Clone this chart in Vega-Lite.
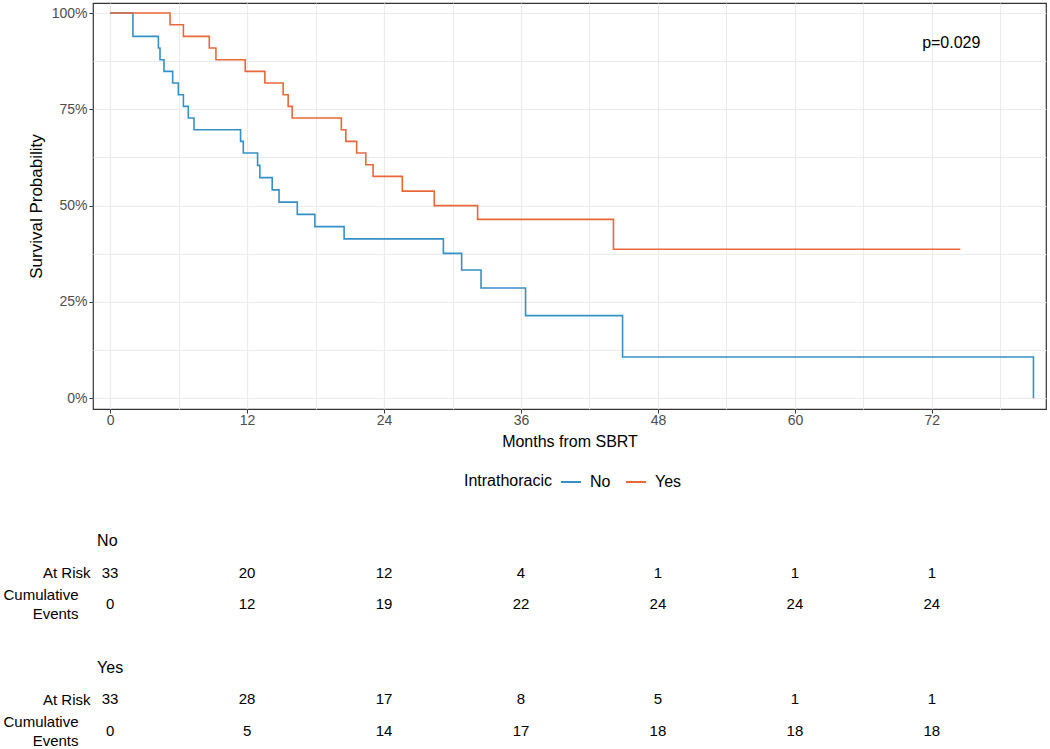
{
  "$schema": "https://vega.github.io/schema/vega-lite/v6.json",
  "padding": {"left": 2, "top": 2, "right": 4, "bottom": 0},
  "spacing": 75,
  "config": {
    "font": "Liberation Sans",
    "view": {"stroke": "#333333", "strokeWidth": 1.2},
    "axis": {"titleFontWeight": "normal", "titleColor": "black"},
    "legend": {"titleFontWeight": "normal"}
  },
  "datasets": {
    "km": [
      {"group": "No", "months": 0, "surv": 1},
      {"group": "No", "months": 2.0, "surv": 0.9394},
      {"group": "No", "months": 4.23, "surv": 0.9091},
      {"group": "No", "months": 4.37, "surv": 0.8788},
      {"group": "No", "months": 4.72, "surv": 0.8485},
      {"group": "No", "months": 5.48, "surv": 0.8182},
      {"group": "No", "months": 5.98, "surv": 0.7879},
      {"group": "No", "months": 6.42, "surv": 0.7576},
      {"group": "No", "months": 6.85, "surv": 0.7273},
      {"group": "No", "months": 7.35, "surv": 0.697},
      {"group": "No", "months": 11.43, "surv": 0.6667},
      {"group": "No", "months": 11.67, "surv": 0.6364},
      {"group": "No", "months": 12.92, "surv": 0.6045},
      {"group": "No", "months": 13.12, "surv": 0.5727},
      {"group": "No", "months": 14.2, "surv": 0.5409},
      {"group": "No", "months": 14.8, "surv": 0.5091},
      {"group": "No", "months": 16.4, "surv": 0.4773},
      {"group": "No", "months": 17.94, "surv": 0.4455},
      {"group": "No", "months": 20.5, "surv": 0.4136},
      {"group": "No", "months": 29.2, "surv": 0.376},
      {"group": "No", "months": 30.8, "surv": 0.333},
      {"group": "No", "months": 32.5, "surv": 0.286},
      {"group": "No", "months": 36.4, "surv": 0.2143},
      {"group": "No", "months": 44.9, "surv": 0.1071},
      {"group": "No", "months": 80.9, "surv": 0},
      {"group": "Yes", "months": 0, "surv": 1},
      {"group": "Yes", "months": 5.25, "surv": 0.9697},
      {"group": "Yes", "months": 6.42, "surv": 0.9394},
      {"group": "Yes", "months": 8.69, "surv": 0.9091},
      {"group": "Yes", "months": 9.27, "surv": 0.8788},
      {"group": "Yes", "months": 11.84, "surv": 0.8485},
      {"group": "Yes", "months": 13.56, "surv": 0.8182},
      {"group": "Yes", "months": 15.16, "surv": 0.7879},
      {"group": "Yes", "months": 15.6, "surv": 0.7576},
      {"group": "Yes", "months": 15.95, "surv": 0.7273},
      {"group": "Yes", "months": 20.26, "surv": 0.697},
      {"group": "Yes", "months": 20.65, "surv": 0.6667},
      {"group": "Yes", "months": 21.6, "surv": 0.6364},
      {"group": "Yes", "months": 22.4, "surv": 0.6061},
      {"group": "Yes", "months": 23.04, "surv": 0.5758},
      {"group": "Yes", "months": 25.6, "surv": 0.5375},
      {"group": "Yes", "months": 28.4, "surv": 0.5},
      {"group": "Yes", "months": 32.2, "surv": 0.4643},
      {"group": "Yes", "months": 44.1, "surv": 0.3869},
      {"group": "Yes", "months": 74.5, "surv": 0.3869}
    ],
    "risk": [
      {"row": "No", "kind": "h", "t": 0, "label": "No"},
      {"row": "Yes", "kind": "h", "t": 0, "label": "Yes"},
      {"row": "No_risk", "kind": "n", "t": 0, "label": "33"},
      {"row": "No_risk", "kind": "n", "t": 12, "label": "20"},
      {"row": "No_risk", "kind": "n", "t": 24, "label": "12"},
      {"row": "No_risk", "kind": "n", "t": 36, "label": "4"},
      {"row": "No_risk", "kind": "n", "t": 48, "label": "1"},
      {"row": "No_risk", "kind": "n", "t": 60, "label": "1"},
      {"row": "No_risk", "kind": "n", "t": 72, "label": "1"},
      {"row": "No_cum", "kind": "n", "t": 0, "label": "0"},
      {"row": "No_cum", "kind": "n", "t": 12, "label": "12"},
      {"row": "No_cum", "kind": "n", "t": 24, "label": "19"},
      {"row": "No_cum", "kind": "n", "t": 36, "label": "22"},
      {"row": "No_cum", "kind": "n", "t": 48, "label": "24"},
      {"row": "No_cum", "kind": "n", "t": 60, "label": "24"},
      {"row": "No_cum", "kind": "n", "t": 72, "label": "24"},
      {"row": "Yes_risk", "kind": "n", "t": 0, "label": "33"},
      {"row": "Yes_risk", "kind": "n", "t": 12, "label": "28"},
      {"row": "Yes_risk", "kind": "n", "t": 24, "label": "17"},
      {"row": "Yes_risk", "kind": "n", "t": 36, "label": "8"},
      {"row": "Yes_risk", "kind": "n", "t": 48, "label": "5"},
      {"row": "Yes_risk", "kind": "n", "t": 60, "label": "1"},
      {"row": "Yes_risk", "kind": "n", "t": 72, "label": "1"},
      {"row": "Yes_cum", "kind": "n", "t": 0, "label": "0"},
      {"row": "Yes_cum", "kind": "n", "t": 12, "label": "5"},
      {"row": "Yes_cum", "kind": "n", "t": 24, "label": "14"},
      {"row": "Yes_cum", "kind": "n", "t": 36, "label": "17"},
      {"row": "Yes_cum", "kind": "n", "t": 48, "label": "18"},
      {"row": "Yes_cum", "kind": "n", "t": 60, "label": "18"},
      {"row": "Yes_cum", "kind": "n", "t": 72, "label": "18"}
    ]
  },
  "vconcat": [
    {
      "width": 953,
      "height": 406,
      "layer": [
        {
          "data": {"values": [{"label": "p=0.029"}]},
          "mark": {"type": "text", "fontSize": 16, "color": "black"},
          "encoding": {
            "x": {
              "datum": 73.7, "type": "quantitative",
              "axis": {"orient": "top", "values": [6, 18, 30, 42, 54, 66, 78], "grid": true, "gridColor": "#ebebeb", "gridWidth": 1, "labels": false, "ticks": false, "domain": false, "title": null}
            },
            "y": {
              "datum": 0.922, "type": "quantitative",
              "axis": {"orient": "right", "values": [0.125, 0.375, 0.625, 0.875], "grid": true, "gridColor": "#ebebeb", "gridWidth": 1, "labels": false, "ticks": false, "domain": false, "title": null}
            },
            "text": {"field": "label"}
          }
        },
        {
          "data": {"name": "km"},
          "mark": {"type": "line", "interpolate": "step-after", "strokeWidth": 1.6},
          "encoding": {
            "x": {
              "field": "months", "type": "quantitative",
              "scale": {"domain": [-1.5, 82], "nice": false, "zero": false},
              "axis": {"values": [0, 12, 24, 36, 48, 60, 72], "title": "Months from SBRT", "grid": true, "gridColor": "#ebebeb", "gridWidth": 1.2, "domain": false, "tickColor": "#333333", "tickSize": 4, "labelColor": "#4d4d4d", "labelFontSize": 14, "labelPadding": 0, "titleFontSize": 16, "titlePadding": 6}
            },
            "y": {
              "field": "surv", "type": "quantitative",
              "scale": {"domain": [-0.028, 1.026], "nice": false, "zero": false},
              "axis": {"values": [0, 0.25, 0.5, 0.75, 1], "format": ".0%", "title": "Survival Probability", "grid": true, "gridColor": "#ebebeb", "gridWidth": 1.2, "domain": false, "tickColor": "#333333", "tickSize": 4, "labelColor": "#4d4d4d", "labelFontSize": 14, "labelPadding": 2, "titleFontSize": 17, "titlePadding": 6}
            },
            "color": {
              "field": "group", "type": "nominal",
              "scale": {"domain": ["No", "Yes"], "range": ["#3690c8", "#e8683a"]},
              "legend": {"orient": "none", "legendX": 371, "legendY": 468, "direction": "horizontal", "title": "Intrathoracic", "titleOrient": "left", "titleFontSize": 16, "titlePadding": 7, "titleColor": "black", "labelFontSize": 16, "labelColor": "black", "symbolType": "stroke", "symbolStrokeWidth": 2, "symbolSize": 400, "labelOffset": 8, "columnPadding": 11}
            }
          }
        }
      ],
      "resolve": {"axis": {"x": "independent", "y": "independent"}}
    },
    {
      "width": 953,
      "height": 222,
      "view": {"stroke": null},
      "data": {"name": "risk"},
      "encoding": {
        "x": {"field": "t", "type": "quantitative", "scale": {"domain": [-1.5, 82], "nice": false, "zero": false}, "axis": null},
        "y": {
          "field": "row", "type": "nominal",
          "scale": {"domain": ["No", "No_risk", "No_cum", "gap", "Yes", "Yes_risk", "Yes_cum"], "paddingInner": 0, "paddingOuter": 0},
          "axis": {
            "title": null, "domain": false, "ticks": false, "grid": false,
            "labelPadding": {"condition": {"test": "indexof(datum.value, 'cum') >= 0", "value": 15}, "value": 3},
            "labelOffset": {"condition": {"test": "indexof(datum.value, 'cum') >= 0", "value": -9.5}, "value": 0},
            "labelFontSize": 15, "labelColor": "black", "labelLineHeight": 19,
            "labelExpr": "indexof(datum.value, 'risk') >= 0 ? 'At Risk' : (indexof(datum.value, 'cum') >= 0 ? ['Cumulative', 'Events'] : '')"
          }
        },
        "text": {"field": "label"}
      },
      "layer": [
        {
          "transform": [{"filter": "datum.kind == 'n'"}],
          "mark": {"type": "text", "fontSize": 15, "color": "black"}
        },
        {
          "transform": [{"filter": "datum.kind == 'h'"}],
          "mark": {"type": "text", "fontSize": 16, "color": "black", "align": "left", "dx": -13}
        }
      ]
    }
  ]
}
